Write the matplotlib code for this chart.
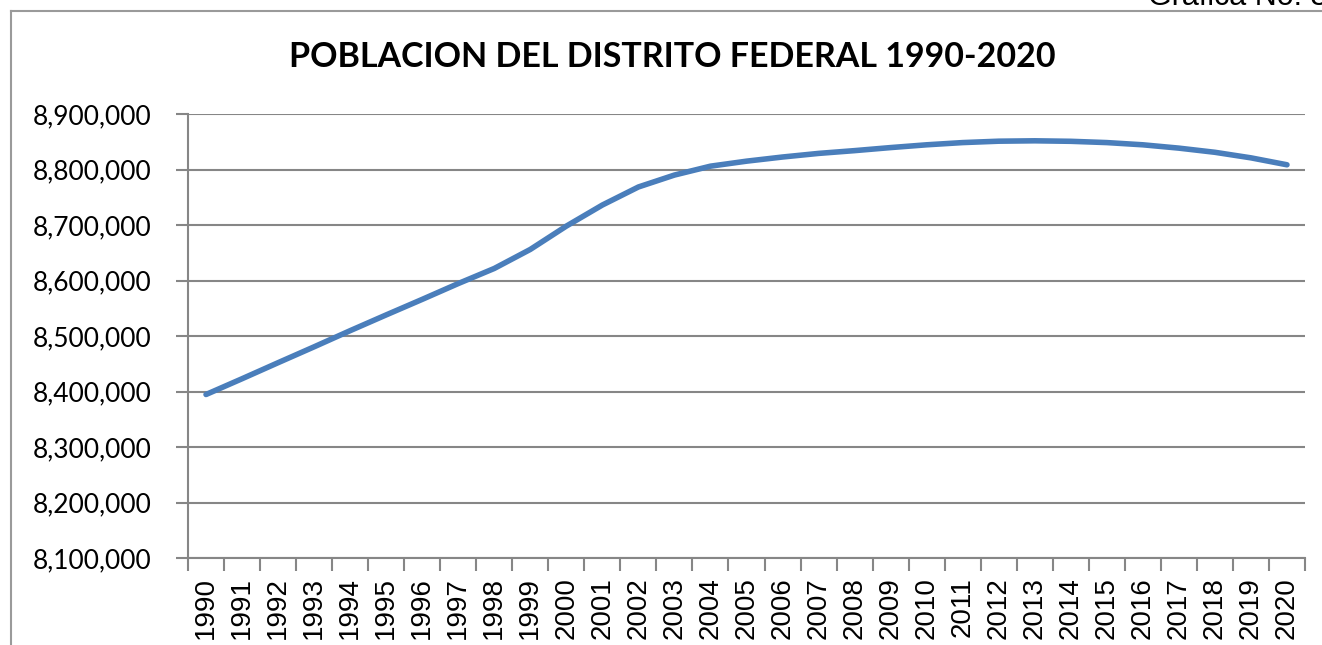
import matplotlib.pyplot as plt
import numpy as np
from matplotlib.lines import Line2D
from matplotlib.ticker import FuncFormatter

# datos
years = list(range(1990, 2021))
population = [8394600, 8423000, 8451900, 8480500, 8509600, 8538000, 8566000,
              8594500, 8621700, 8656000, 8698000, 8736000, 8768500, 8790000,
              8806000, 8815000, 8822500, 8829000, 8834000, 8839500, 8844500,
              8848500, 8851000, 8851700, 8850800, 8848500, 8844500, 8838500,
              8831000, 8821000, 8808500]
y_ticks = list(range(8100000, 8900001, 100000))

W, H = 1322, 645
fig = plt.figure(figsize=(W / 100, H / 100), dpi=100)
ax = fig.add_axes([188 / W, (H - 558) / H, 1117 / W, 444 / H])

grid_col = '#868686'
x = np.arange(len(years))
ax.plot(x, population, color='#4A7EBB', linewidth=4.0, solid_capstyle='round',
        solid_joinstyle='round', zorder=3)

ax.set_xlim(-0.5, len(years) - 0.5)
ax.set_ylim(y_ticks[0], y_ticks[-1])

# eje y
ax.set_yticks(y_ticks)
ax.yaxis.set_major_formatter(FuncFormatter(lambda v, p: f'{int(v):,}'))
ax.grid(axis='y', color=grid_col, linewidth=1.5, zorder=1)
ax.tick_params(axis='y', length=9, width=1.5, color=grid_col, pad=17,
               labelsize=19)
for lab in ax.get_yticklabels():
    lab.set_fontfamily('Lato')

# eje x: marcas entre categorias, etiquetas al centro
ax.set_xticks(np.arange(-0.5, len(years), 1.0))
ax.set_xticklabels([])
ax.set_xticks(x, minor=True)
ax.set_xticklabels([str(y) for y in years], minor=True, rotation=90,
                   fontsize=20, fontfamily='Liberation Sans')
ax.tick_params(axis='x', which='major', length=9, width=1.5, color=grid_col)
ax.tick_params(axis='x', which='minor', length=0, pad=14)

for s in ['top', 'right']:
    ax.spines[s].set_visible(False)
for s in ['left', 'bottom']:
    ax.spines[s].set_color(grid_col)
    ax.spines[s].set_linewidth(1.5)

# titulo
fig.text(672 / W, 1 - 57 / H, 'POBLACION DEL DISTRITO FEDERAL 1990-2020',
         ha='center', va='center', fontsize=24.5, fontweight='bold',
         fontfamily='Lato')

# borde del area de grafico
border = '#9A9A9A'
fig.add_artist(Line2D([11 / W, 11 / W], [0, 1 - 11 / H], transform=fig.transFigure,
                      color=border, linewidth=1.5))
fig.add_artist(Line2D([11 / W, 1], [1 - 11 / H, 1 - 11 / H], transform=fig.transFigure,
                      color=border, linewidth=1.5))

# texto cortado arriba a la derecha (como en el original)
fig.text(1148 / W, 1 - 5 / H, 'Grafica No. 3', ha='left', va='baseline',
         fontsize=22, fontfamily='Liberation Sans')

fig.savefig('out.png', dpi=100)
